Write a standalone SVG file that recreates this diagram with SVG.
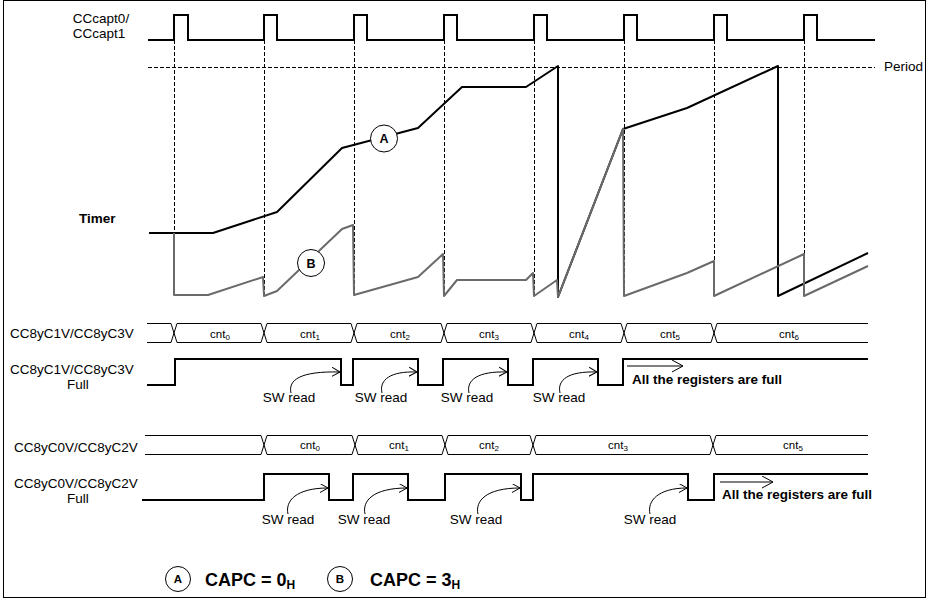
<svg xmlns="http://www.w3.org/2000/svg" width="927" height="598" viewBox="0 0 927 598">
<style>
text{font-family:"Liberation Sans",Arial,sans-serif;fill:#000}
.lbl{font-size:13.5px}
.b{font-weight:bold}
.cnt{font-size:11.5px}
.sub{font-size:8px}
.sig{fill:none;stroke:#000;stroke-width:2}
.bus{fill:none;stroke:#000;stroke-width:1}
.dash{fill:none;stroke:#000;stroke-width:1;stroke-dasharray:4 2}
.tA{fill:none;stroke:#000;stroke-width:2;stroke-linejoin:round}
.tB{fill:none;stroke:#6a6a6a;stroke-width:2;stroke-linejoin:round}
.circ{fill:#fff;stroke:#000;stroke-width:1}
.arr{fill:none;stroke:#000;stroke-width:1}
</style>
<defs>
<marker id="oa" markerUnits="userSpaceOnUse" markerWidth="12" markerHeight="12" refX="8" refY="4.5" orient="auto">
<path d="M0,0 L8,4.5 L0,9" fill="none" stroke="#000" stroke-width="1"/>
</marker>
<marker id="ob" markerUnits="userSpaceOnUse" markerWidth="14" markerHeight="14" refX="11" refY="6" orient="auto">
<path d="M0,0 L11,6 L0,12" fill="none" stroke="#000" stroke-width="1"/>
</marker>
</defs>
<rect x="3.5" y="0.5" width="922" height="597" fill="#fff" stroke="#000" stroke-width="1"/>

<g id="capt">
<text class="lbl" x="101" y="23" text-anchor="middle">CCcapt0/</text>
<text class="lbl" x="99" y="38" text-anchor="middle">CCcapt1</text>
<path class="sig" d="M148,40 H174 V15 H188 V40 H264 V15 H277 V40 H354 V15 H367 V40 H444 V15 H457 V40 H534 V15 H547 V40 H624 V15 H637 V40 H714 V15 H727 V40 H804 V15 H817 V40 H875"/>
</g>

<g id="guides">
<path class="dash" d="M174.5,40 V296 M264.5,40 V296 M354.5,40 V296 M444.5,40 V296 M534.5,40 V296 M624.5,40 V296 M714.5,40 V296 M804.5,40 V296"/>
<path class="dash" d="M148,67.5 H875" stroke-dasharray="5 3"/>
<text class="lbl" x="884" y="71">Period</text>
</g>

<g id="timer">
<text class="lbl b" x="79" y="223">Timer</text>
<path class="tA" d="M149,233 L213,233 L277,212 L342,148 L418,128 L462,87 L526,87 L558,66 L558,297 L623,129 L687,108 L778,66 L778,296 L868,253"/>
<path class="tB" d="M174,233 L174,295 L208,295 L263,277 L264,296 L277,291 L342,229 L353,225 L354,295 L418,277 L443,254 L444,296 L457,280 L526,280 L533,273 L534,296 L557,280 L558,297 L623,129 L624,296 L687,273 L714,261 L714,296 L804,254 L804,296 L868,266"/>
<g id="markA"><circle class="circ" cx="384" cy="138.5" r="13.5"/><text class="b" x="384" y="143" font-size="12.5" text-anchor="middle">A</text></g>
<g id="markB"><circle class="circ" cx="311" cy="263" r="13.5"/><text class="b" x="311" y="267.5" font-size="12.5" text-anchor="middle">B</text></g>
</g>

<g id="bus1">
<text class="lbl" x="10" y="338">CC8yC1V/CC8yC3V</text>
<path class="bus" d="M147,323.5 H171 L177,342.5 H261 L267,323.5 H351 L357,342.5 H441 L447,323.5 H531 L537,342.5 H621 L627,323.5 H711 L717,342.5 H868 M147,342.5 H171 L177,323.5 H261 L267,342.5 H351 L357,323.5 H441 L447,342.5 H531 L537,323.5 H621 L627,342.5 H711 L717,323.5 H868"/>
<g class="cnt">
<text class="cnt" x="220" y="338" text-anchor="middle">cnt<tspan class="sub" dy="2">0</tspan></text>
<text class="cnt" x="310" y="338" text-anchor="middle">cnt<tspan class="sub" dy="2">1</tspan></text>
<text class="cnt" x="400" y="338" text-anchor="middle">cnt<tspan class="sub" dy="2">2</tspan></text>
<text class="cnt" x="489" y="338" text-anchor="middle">cnt<tspan class="sub" dy="2">3</tspan></text>
<text class="cnt" x="579" y="338" text-anchor="middle">cnt<tspan class="sub" dy="2">4</tspan></text>
<text class="cnt" x="670" y="338" text-anchor="middle">cnt<tspan class="sub" dy="2">5</tspan></text>
<text class="cnt" x="789" y="338" text-anchor="middle">cnt<tspan class="sub" dy="2">6</tspan></text>
</g>
</g>

<g id="full1">
<text class="lbl" x="10" y="374">CC8yC1V/CC8yC3V</text>
<text class="lbl" x="78" y="389" text-anchor="middle">Full</text>
<path class="sig" d="M147,385 H175 V359 H341 V385 H353 V359 H418 V385 H443 V359 H508 V385 H533 V359 H598 V385 H623 V359 H868"/>
<path class="arr" marker-end="url(#ob)" d="M627,366 H683"/>
<text class="lbl b" x="632" y="384">All the registers are full</text>
</g>

<g id="swread1">
<path class="arr" marker-end="url(#oa)" d="M291,393 C288,380 300,371 340,372"/>
<path class="arr" marker-end="url(#oa)" d="M382,393 C379,380 390,371 417,372"/>
<path class="arr" marker-end="url(#oa)" d="M469,393 C466,380 478,371 507,372"/>
<path class="arr" marker-end="url(#oa)" d="M560,393 C557,380 568,371 597,372"/>
<text class="lbl" x="289" y="402" text-anchor="middle">SW read</text>
<text class="lbl" x="381" y="402" text-anchor="middle">SW read</text>
<text class="lbl" x="467" y="402" text-anchor="middle">SW read</text>
<text class="lbl" x="559" y="402" text-anchor="middle">SW read</text>
</g>

<g id="bus2">
<text class="lbl" x="14" y="452">CC8yC0V/CC8yC2V</text>
<path class="bus" d="M145,435.5 H261 L267,454.5 H352 L358,435.5 H442 L448,454.5 H530 L536,435.5 H710 L716,454.5 H868 M145,454.5 H261 L267,435.5 H352 L358,454.5 H442 L448,435.5 H530 L536,454.5 H710 L716,435.5 H868"/>
<text class="cnt" x="310" y="449" text-anchor="middle">cnt<tspan class="sub" dy="2">0</tspan></text>
<text class="cnt" x="399" y="449" text-anchor="middle">cnt<tspan class="sub" dy="2">1</tspan></text>
<text class="cnt" x="489" y="449" text-anchor="middle">cnt<tspan class="sub" dy="2">2</tspan></text>
<text class="cnt" x="618" y="449" text-anchor="middle">cnt<tspan class="sub" dy="2">3</tspan></text>
<text class="cnt" x="793" y="449" text-anchor="middle">cnt<tspan class="sub" dy="2">5</tspan></text>
</g>

<g id="full2">
<text class="lbl" x="14" y="488">CC8yC0V/CC8yC2V</text>
<text class="lbl" x="78" y="503" text-anchor="middle">Full</text>
<path class="sig" d="M142,500 H264 V474 H329 V500 H353 V474 H408 V500 H445 V474 H521 V500 H533 V474 H688 V500 H714 V474 H868"/>
<path class="arr" marker-end="url(#ob)" d="M720,482 H773"/>
<text class="lbl b" x="722" y="499">All the registers are full</text>
</g>

<g id="swread2">
<path class="arr" marker-end="url(#oa)" d="M288,514 C285,501 296,488 328,488"/>
<path class="arr" marker-end="url(#oa)" d="M365,514 C362,501 373,488 407,488"/>
<path class="arr" marker-end="url(#oa)" d="M478,514 C475,501 486,488 520,488"/>
<path class="arr" marker-end="url(#oa)" d="M650,514 C647,501 658,488 687,488"/>
<text class="lbl" x="288" y="524" text-anchor="middle">SW read</text>
<text class="lbl" x="364" y="524" text-anchor="middle">SW read</text>
<text class="lbl" x="476" y="524" text-anchor="middle">SW read</text>
<text class="lbl" x="650" y="524" text-anchor="middle">SW read</text>
</g>

<g id="legend">
<g id="legA"><circle class="circ" cx="178" cy="579" r="12.5"/><text class="b" x="178" y="583" font-size="11.5" text-anchor="middle">A</text></g>
<text class="b" x="205" y="586" font-size="18">CAPC = 0<tspan font-size="12" dy="3">H</tspan></text>
<g id="legB"><circle class="circ" cx="340" cy="579" r="12.5"/><text class="b" x="340" y="583" font-size="11.5" text-anchor="middle">B</text></g>
<text class="b" x="370" y="586" font-size="18">CAPC = 3<tspan font-size="12" dy="3">H</tspan></text>
</g>
</svg>
